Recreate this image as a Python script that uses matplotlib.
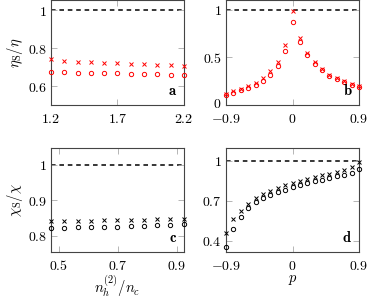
#!/usr/bin/env python3

from matplotlib import pyplot as plt
from matplotlib import ticker
from matplotlib import transforms

plt.rcParams['mathtext.fontset'] = 'cm'
plt.rcParams['font.family'] = 'serif'
plt.rcParams['font.serif'] = ['DejaVu Serif']
plt.rcParams['axes.formatter.use_mathtext'] = True

# panel a
a_x = [1.2, 1.3, 1.4, 1.5, 1.6, 1.7, 1.8, 1.9, 2.0, 2.1, 2.2]
a_cross = [0.740, 0.733, 0.728, 0.725, 0.722, 0.720, 0.717, 0.714, 0.712, 0.710, 0.704]
a_circ = [0.674, 0.673, 0.671, 0.670, 0.668, 0.666, 0.665, 0.663, 0.662, 0.660, 0.656]

# panel b / d share p
p = [-0.9, -0.8, -0.7, -0.6, -0.5, -0.4, -0.3, -0.2, -0.1, 0.0,
     0.1, 0.2, 0.3, 0.4, 0.5, 0.6, 0.7, 0.8, 0.9]
b_cross = [0.116, 0.147, 0.168, 0.196, 0.235, 0.284, 0.354, 0.45, 0.63, 0.99,
           0.71, 0.55, 0.45, 0.38, 0.32, 0.28, 0.25, 0.22, 0.20]
b_circ = [0.108, 0.126, 0.154, 0.175, 0.21, 0.256, 0.32, 0.41, 0.57, 0.87,
          0.66, 0.526, 0.43, 0.365, 0.31, 0.274, 0.242, 0.214, 0.19]

# panel c
c_x = [0.474, 0.519, 0.564, 0.609, 0.654, 0.699, 0.744, 0.789, 0.834, 0.879, 0.925]
c_cross = [0.842, 0.843, 0.843, 0.843, 0.844, 0.844, 0.845, 0.845, 0.846, 0.846, 0.847]
c_circ = [0.822, 0.823, 0.824, 0.824, 0.825, 0.826, 0.827, 0.828, 0.829, 0.830, 0.832]

# panel d
d_cross = [0.455, 0.56, 0.625, 0.677, 0.718, 0.748, 0.773, 0.797, 0.815, 0.833,
           0.85, 0.865, 0.878, 0.89, 0.902, 0.915, 0.928, 0.95, 0.99]
d_circ = [0.353, 0.488, 0.58, 0.643, 0.688, 0.718, 0.743, 0.765, 0.782, 0.80,
          0.818, 0.833, 0.845, 0.857, 0.87, 0.883, 0.895, 0.91, 0.938]

W, H = 373, 299
fig = plt.figure(figsize=(W / 100, H / 100), dpi=100)


def box(l, t, r, b):
    return [l / W, 1 - b / H, (r - l) / W, (b - t) / H]


ax_a = fig.add_axes(box(51, 0, 184, 105))
ax_b = fig.add_axes(box(226, 0, 359, 105))
ax_c = fig.add_axes(box(51, 148, 184, 252))
ax_d = fig.add_axes(box(226, 148, 359, 252))


def style(ax, x, cross, circ, col, xlim, ylim, xt, yt, tag):
    ax.axhline(1, color='black', ls=(0, (3, 2.5)), lw=1.1, zorder=1)
    ax.plot(x, cross, ls='none', marker='x', ms=2.7, mew=0.7, color=col, zorder=3, clip_on=False)
    ax.plot(x, circ, ls='none', marker='o', ms=3.1, mew=0.7, mfc='none', mec=col, zorder=3, clip_on=False)
    ax.set_xlim(*xlim)
    ax.set_ylim(*ylim)
    ax.set_xticks(xt)
    ax.set_yticks(yt)
    ax.xaxis.set_major_formatter(ticker.FuncFormatter(lambda v, _: '$%g$' % v))
    ax.yaxis.set_major_formatter(ticker.FuncFormatter(lambda v, _: '$%g$' % v))
    ax.tick_params(direction='in', length=4, width=0.6, color='#aaaaaa',
                   top=True, right=True, labelsize=10)
    ax.tick_params(axis='x', pad=5)
    ax.tick_params(axis='y', pad=3)
    for s in ax.spines.values():
        s.set_color('#444444')
        s.set_linewidth(0.8)
    ax.text(0.95, 0.07, r'$\mathbf{%s}$' % tag, transform=ax.transAxes,
            ha='right', va='bottom', fontsize=10.5)


style(ax_a, a_x, a_cross, a_circ, 'red', (1.2, 2.2), (0.5, 1.053),
      [1.2, 1.7, 2.2], [0.6, 0.8, 1.0], 'a')
style(ax_b, p, b_cross, b_circ, 'red', (-0.9, 0.9), (0, 1.105),
      [-0.9, 0, 0.9], [0, 0.5, 1.0], 'b')
style(ax_c, c_x, c_cross, c_circ, 'black', (0.474, 0.925), (0.754, 1.048),
      [0.5, 0.7, 0.9], [0.8, 0.9, 1.0], 'c')
style(ax_d, p, d_cross, d_circ, 'black', (-0.9, 0.9), (0.315, 1.095),
      [-0.9, 0, 0.9], [0.4, 0.7, 1.0], 'd')

# lift the "0" of panel b a little so it clears the -0.9 below it
fig.canvas.draw()
zero = ax_b.get_yticklabels()[0]
zero.set_transform(zero.get_transform() + transforms.ScaledTranslation(0, 2 / 72, fig.dpi_scale_trans))

ax_a.set_ylabel(r'$\eta_{\mathrm{S}}/\eta$', fontsize=10.5, labelpad=2)
ax_c.set_ylabel(r'$\chi_{\mathrm{S}}/\chi$', fontsize=10.5, labelpad=2)
ax_c.set_xlabel(r'$n_h^{(2)}/n_c$', fontsize=10.5, labelpad=0)
ax_d.set_xlabel(r'$p$', fontsize=10.5, labelpad=0)

plt.savefig('out.png', dpi=100)
